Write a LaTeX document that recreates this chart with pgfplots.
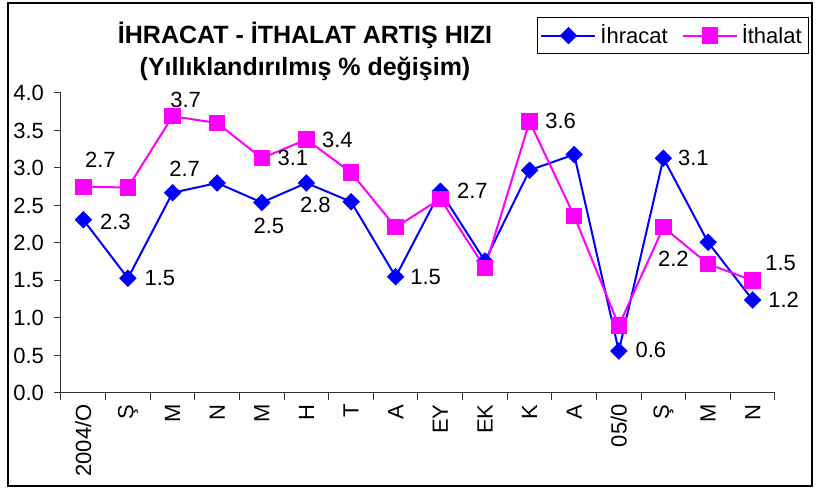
\documentclass[border=0pt]{standalone}
\usepackage{fontspec}
\setmainfont{Liberation Sans}
\usepackage{pgfplots}
\usepackage{pgfplotstable}
\pgfplotsset{compat=1.18}

\definecolor{ihr}{RGB}{0,0,255}
\definecolor{ith}{RGB}{255,0,255}

% x y
\pgfplotstableread{
x y
0 2.31
1 1.53
2 2.67
3 2.80
4 2.54
5 2.80
6 2.55
7 1.55
8 2.69
9 1.76
10 2.97
11 3.18
12 0.56
13 3.13
14 2.01
15 1.24
}\ihracat

\pgfplotstableread{
x y
0 2.75
1 2.74
2 3.69
3 3.60
4 3.13
5 3.38
6 2.94
7 2.21
8 2.59
9 1.67
10 3.62
11 2.36
12 0.90
13 2.21
14 1.72
15 1.50
}\ithalat

% value labels: shown text and offset (pt) from the point
\pgfplotstableread{
x y lab dx dy
0 2.31 2.3 16 -1
1 1.53 1.5 16 0
2 2.67 2.7 6 12
4 2.54 2.5 3.5 -11.5
5 2.80 2.8 4.5 -11
7 1.55 1.5 15 0
8 2.69 2.7 16 0
12 0.56 0.6 16 0.5
13 3.13 3.1 15 0
15 1.24 1.2 15.5 0
}\ihrlab

\pgfplotstableread{
x y lab dx dy
0 2.75 2.7 8.5 13.5
2 3.69 3.7 6.5 8
4 3.13 3.1 15.5 0
5 3.38 3.4 15.5 0
10 3.62 3.6 15.5 0.5
13 2.21 2.2 5 -16
15 1.50 1.5 14 8.5
}\ithlab

\pgfplotsset{
  vallabels/.style={draw=none, no marks, forget plot, point meta=explicit symbolic,
    nodes near coords,
    visualization depends on={\thisrow{dx} \as \labdx},
    visualization depends on={\thisrow{dy} \as \labdy},
    every node near coord/.append style={anchor=center, black, inner sep=0pt,
        xshift=\labdx pt, yshift=\labdy pt}},
}

\begin{document}
\begin{tikzpicture}[font=\fontsize{11}{13}\selectfont]
\useasboundingbox (-30.5pt,-47.5pt) rectangle (383pt,196.5pt);
\begin{axis}[
    at={(0,0)}, anchor=south west,
    scale only axis, width=357pt, height=150pt,
    xmin=-0.5, xmax=15.5, ymin=0, ymax=4,
    axis x line*=bottom, axis y line*=left,
    axis line style={black!80, line width=0.5pt},
    tick style={black!80, line width=0.5pt},
    tick align=outside, major tick length=3.5pt,
    xtick={-0.5,0.5,...,15.5},
    x tick label as interval,
    xticklabels={2004/O,Ş,M,N,M,H,T,A,EY,EK,K,A,05/0,Ş,M,N},
    xticklabel style={rotate=90, anchor=east, inner sep=2pt},
    ytick={0,0.5,1,1.5,2,2.5,3,3.5,4},
    /pgf/number format/assume math mode=true,
    yticklabel style={/pgf/number format/fixed, /pgf/number format/fixed zerofill,
        /pgf/number format/precision=1, xshift=-1.5pt},
    legend columns=2,
    legend style={at={(238pt,188pt)}, anchor=north west, draw=black, line width=0.5pt,
        inner xsep=1.5pt, inner ysep=1.5pt, font=\fontsize{11}{13}\selectfont,
        /tikz/every even column/.append style={column sep=5pt}},
    legend image code/.code={\draw[mark repeat=2,mark phase=2]
        plot coordinates {(0pt,0pt) (13.5pt,0pt) (27pt,0pt)};},
    clip=false,
]
\addplot[ihr, line width=1pt, mark=square*, mark size=2.6pt,
    mark options={rotate=45, solid}] table[x=x,y=y]{\ihracat};
\addlegendentry{İhracat}
\addplot[ith, line width=1pt, mark=square*, mark size=3.6pt,
    mark options={solid}] table[x=x,y=y]{\ithalat};
\addlegendentry{İthalat}

\addplot[vallabels] table[x=x,y=y,meta=lab]{\ihrlab};
\addplot[vallabels] table[x=x,y=y,meta=lab]{\ithlab};
\end{axis}
\node[font=\bfseries\fontsize{12.5}{16}\selectfont, align=center] at (122pt,171pt)
    {İHRACAT - İTHALAT ARTIŞ HIZI\\(Yıllıklandırılmış \% değişim)};
\draw[black, line width=0.6pt] (-26.5pt,-46.5pt) rectangle (375.5pt,195pt);
\end{tikzpicture}
\end{document}
